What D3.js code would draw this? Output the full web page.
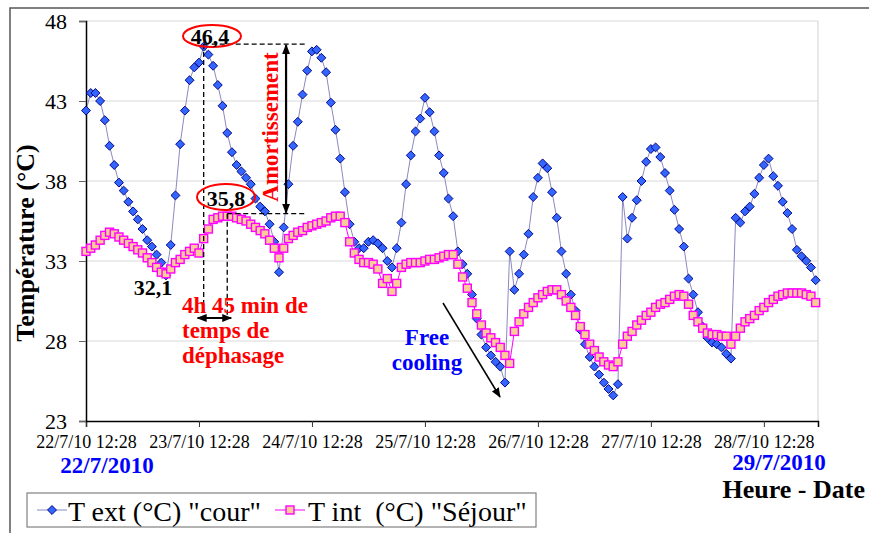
<!DOCTYPE html>
<html>
<head>
<meta charset="utf-8">
<script src="https://cdn.jsdelivr.net/npm/d3@7"></script>
<style>
body { margin: 0; background: #fff; }
svg { display: block; font-family: "Liberation Serif", "Times New Roman", serif; }
svg text { font-family: "Liberation Serif", "Times New Roman", serif; }
</style>
</head>
<body>
<div class="chart"></div>
<script>

const FRAME_WIDTH = 869;
const FRAME_HEIGHT = 533;
const MARGINS = {left: 86, right: 51, top: 21, bottom: 112};

// hourly readings from 22/7/10 12:28
const T_EXT = [
  42.4, 43.5, 43.5, 43.0, 41.8, 40.2, 39.0, 37.9, 37.4, 36.7, 36.1, 35.6,
  35.0, 34.3, 33.9, 33.4, 32.9, 32.1, 34.0, 37.1, 40.3, 42.4, 44.3, 45.1,
  45.4, 46.4, 45.9, 45.2, 44.0, 42.7, 41.0, 39.8, 39.0, 38.6, 38.2, 37.8,
  36.9, 36.4, 36.1, 35.3, 34.2, 32.3, 35.1, 37.8, 40.2, 41.7, 43.4, 44.9,
  46.1, 46.2, 45.7, 44.8, 42.9, 41.2, 39.4, 37.3, 35.3, 34.2, 33.8, 33.8,
  34.2, 34.3, 34.1, 33.8, 33.0, 32.6, 33.8, 35.4, 37.8, 39.6, 41.1, 41.9,
  43.2, 42.3, 41.1, 39.6, 38.5, 36.9, 35.8, 33.6, 32.8, 32.2, 30.9, 29.4,
  28.4, 27.6, 27.1, 26.7, 26.4, 25.4, 33.6, 31.2, 32.2, 33.4, 34.7, 37.0,
  38.2, 39.1, 38.8, 37.3, 35.7, 33.6, 32.2, 30.9, 29.9, 28.7, 27.8, 27.0,
  26.4, 25.9, 25.4, 25.0, 24.6, 25.3, 37.0, 34.4, 35.7, 36.8, 38.0, 39.2,
  40.0, 40.1, 39.5, 38.5, 37.4, 36.2, 35.0, 33.9, 31.9, 30.9, 29.8, 28.9,
  28.2, 27.9, 27.8, 27.6, 27.2, 26.9, 35.7, 35.4, 36.1, 36.4, 37.2, 38.2,
  39.0, 39.4, 38.3, 37.7, 36.7, 36.0, 35.0, 33.7, 33.3, 33.0, 32.6, 31.8
];

const T_INT = [
  33.6, 33.8, 34.0, 34.3, 34.6, 34.8, 34.7, 34.5, 34.3, 34.1, 33.9, 33.7,
  33.5, 33.2, 32.9, 32.6, 32.3, 32.2, 32.5, 32.9, 33.1, 33.4, 33.6, 33.8,
  33.5, 34.4, 35.0, 35.6, 35.7, 35.8, 35.8, 35.8, 35.7, 35.6, 35.5, 35.3,
  35.1, 34.9, 34.7, 34.3, 33.8, 33.2, 33.8, 34.4, 34.6, 34.8, 34.9, 35.1,
  35.2, 35.3, 35.4, 35.5, 35.7, 35.8, 35.8, 35.4, 34.2, 33.5, 33.1, 32.9,
  32.9, 32.8, 32.5, 31.6, 31.9, 31.1, 31.6, 32.6, 32.8, 32.9, 32.9, 32.9,
  33.0, 33.1, 33.1, 33.2, 33.3, 33.4, 33.4, 32.8, 32.0, 31.3, 30.4, 29.7,
  29.0, 28.5, 28.2, 27.9, 27.6, 27.1, 26.6, 28.6, 29.2, 29.7, 30.1, 30.4,
  30.7, 30.9, 31.1, 31.2, 31.2, 30.9, 30.5, 30.1, 29.6, 28.9, 28.4, 27.8,
  27.4, 27.0, 26.7, 26.5, 26.4, 26.7, 27.8, 28.3, 28.6, 29.0, 29.3, 29.6,
  29.8, 30.1, 30.3, 30.4, 30.6, 30.8, 30.9, 30.8, 30.3, 29.6, 29.2, 28.8,
  28.5, 28.4, 28.4, 28.3, 28.3, 27.8, 28.3, 28.8, 29.2, 29.4, 29.6, 29.9,
  30.1, 30.4, 30.6, 30.8, 30.9, 31.0, 31.0, 31.0, 31.0, 30.9, 30.8, 30.4
];

const TICK_HOURS = [0, 24, 48, 72, 96, 120, 144];
const TICK_LABELS = ["22/7/10 12:28", "23/7/10 12:28", "24/7/10 12:28", "25/7/10 12:28",
                     "26/7/10 12:28", "27/7/10 12:28", "28/7/10 12:28"];
const Y_TICKS = [23, 28, 33, 38, 43, 48];
const SERIES_NAMES = ['T ext (°C) "cour"', 'T int  (°C) "Séjour"'];

const EXT_FILL = "#3366ff", EXT_STROKE = "#000080", EXT_LINE = "#8a8ac0";
const INT_FILL = "#ffcc99", INT_STROKE = "#ff00ff";

const SVG = d3.select(".chart")
  .append("svg")
  .attr("width", FRAME_WIDTH)
  .attr("height", FRAME_HEIGHT);

const PLOT_WIDTH = FRAME_WIDTH - MARGINS.left - MARGINS.right;
const PLOT_HEIGHT = FRAME_HEIGHT - MARGINS.top - MARGINS.bottom;

const X_SCALE = d3.scaleLinear().domain([0, 155.5]).range([MARGINS.left, MARGINS.left + PLOT_WIDTH]);
const Y_SCALE = d3.scaleLinear().domain([23, 48]).range([MARGINS.top + PLOT_HEIGHT, MARGINS.top]);

// arrow markers
const DEFS = SVG.append("defs");
DEFS.append("marker").attr("id", "head")
  .attr("viewBox", "0 0 10 10").attr("refX", 9).attr("refY", 5)
  .attr("markerWidth", 10).attr("markerHeight", 10)
  .attr("markerUnits", "userSpaceOnUse").attr("orient", "auto-start-reverse")
  .append("path").attr("d", "M0,1 L10,5 L0,9 z").attr("fill", "#000");

// chart border
SVG.append("rect")
  .attr("x", 10).attr("y", 8).attr("width", 880).attr("height", 560)
  .attr("fill", "none").attr("stroke", "#555").attr("stroke-width", 1.5);

// grid + plot border
SVG.append("g").selectAll("line")
  .data(Y_TICKS.slice(1))
  .enter().append("line")
  .attr("x1", MARGINS.left).attr("x2", MARGINS.left + PLOT_WIDTH)
  .attr("y1", d => Y_SCALE(d)).attr("y2", d => Y_SCALE(d))
  .attr("stroke", "#d9d9d9").attr("stroke-width", 1.2);

SVG.append("line")
  .attr("x1", MARGINS.left + PLOT_WIDTH).attr("x2", MARGINS.left + PLOT_WIDTH)
  .attr("y1", MARGINS.top).attr("y2", MARGINS.top + PLOT_HEIGHT)
  .attr("stroke", "#d9d9d9").attr("stroke-width", 1.2);

// axes
const xAxis = SVG.append("g")
  .attr("transform", "translate(0," + (MARGINS.top + PLOT_HEIGHT) + ")")
  .call(d3.axisBottom(X_SCALE).tickValues(TICK_HOURS)
        .tickFormat((d, i) => TICK_LABELS[i]).tickSizeOuter(0).tickSize(6).tickPadding(8))
  .attr("font-family", null).attr("font-size", null);
xAxis.selectAll("text").attr("font-size", "18px").attr("fill", "#000");
xAxis.selectAll(".tick line").attr("stroke", "#333");
xAxis.select(".domain").attr("stroke", "#000").attr("stroke-width", 1.5);

const yAxis = SVG.append("g")
  .attr("transform", "translate(" + MARGINS.left + ",0)")
  .call(d3.axisLeft(Y_SCALE).tickValues(Y_TICKS).tickSizeOuter(0).tickSize(7).tickPadding(12))
  .attr("font-family", null).attr("font-size", null);
yAxis.selectAll("text").attr("font-size", "22px").attr("fill", "#000");
yAxis.selectAll(".tick line").attr("stroke", "#666");
yAxis.select(".domain").attr("stroke", "#000").attr("stroke-width", 1.5);

// series
const LINE = d3.line().x((d, i) => X_SCALE(i)).y(d => Y_SCALE(d));

SVG.append("path").datum(T_EXT)
  .attr("d", LINE).attr("fill", "none")
  .attr("stroke", EXT_LINE).attr("stroke-width", 1);

const DIAMOND = d3.symbol(d3.symbolSquare, 40);
SVG.append("g").selectAll("path")
  .data(T_EXT)
  .enter().append("path")
  .attr("d", DIAMOND)
  .attr("transform", (d, i) => "translate(" + X_SCALE(i) + "," + Y_SCALE(d) + ") rotate(45)")
  .attr("fill", EXT_FILL).attr("stroke", EXT_STROKE).attr("stroke-width", 0.9);

SVG.append("path").datum(T_INT)
  .attr("d", LINE).attr("fill", "none")
  .attr("stroke", INT_STROKE).attr("stroke-width", 1);

SVG.append("g").selectAll("rect")
  .data(T_INT)
  .enter().append("rect")
  .attr("x", (d, i) => X_SCALE(i) - 4)
  .attr("y", d => Y_SCALE(d) - 4)
  .attr("width", 8).attr("height", 8)
  .attr("fill", INT_FILL).attr("stroke", INT_STROKE).attr("stroke-width", 1.4);

// axis titles
SVG.append("text")
  .attr("transform", "translate(34,243) rotate(-90)")
  .attr("text-anchor", "middle")
  .attr("font-size", "26px").attr("font-weight", "bold")
  .text("Température (°C)");

SVG.append("text")
  .attr("x", 865).attr("y", 498).attr("text-anchor", "end")
  .attr("font-size", "26px").attr("font-weight", "bold")
  .text("Heure - Date");

SVG.append("text")
  .attr("x", 107).attr("y", 473).attr("text-anchor", "middle")
  .attr("font-size", "23px").attr("font-weight", "bold").attr("fill", "#0000ff")
  .text("22/7/2010");

SVG.append("text")
  .attr("x", 779).attr("y", 470).attr("text-anchor", "middle")
  .attr("font-size", "23px").attr("font-weight", "bold").attr("fill", "#0000ff")
  .text("29/7/2010");

// annotations
const PEAK_H = 25, LAG_H = 30, AMORT_H = 42.5;
const PEAK_Y = Y_SCALE(46.4) - 2.5, LAG_Y = Y_SCALE(35.8) - 2.5;
const ARROW_Y = 318;

const dash = (x1, y1, x2, y2) => SVG.append("line")
  .attr("x1", x1).attr("y1", y1).attr("x2", x2).attr("y2", y2)
  .attr("stroke", "#000").attr("stroke-width", 1.3).attr("stroke-dasharray", "5,3");

dash(X_SCALE(PEAK_H), PEAK_Y, 306, PEAK_Y);
dash(X_SCALE(PEAK_H), PEAK_Y, X_SCALE(PEAK_H), ARROW_Y);
dash(X_SCALE(LAG_H), LAG_Y, 306, LAG_Y);
dash(X_SCALE(LAG_H), LAG_Y, X_SCALE(LAG_H), ARROW_Y);

SVG.append("line")
  .attr("x1", X_SCALE(AMORT_H)).attr("x2", X_SCALE(AMORT_H))
  .attr("y1", PEAK_Y + 1).attr("y2", LAG_Y - 1)
  .attr("stroke", "#000").attr("stroke-width", 2.2)
  .attr("marker-start", "url(#head)").attr("marker-end", "url(#head)");

SVG.append("line")
  .attr("x1", X_SCALE(PEAK_H) - 6).attr("x2", X_SCALE(LAG_H) + 4)
  .attr("y1", ARROW_Y).attr("y2", ARROW_Y)
  .attr("stroke", "#000").attr("stroke-width", 2)
  .attr("marker-start", "url(#head)").attr("marker-end", "url(#head)");

const bold = (x, y, txt, size, color) => SVG.append("text")
  .attr("x", x).attr("y", y).attr("text-anchor", "middle").attr("dominant-baseline", "central")
  .attr("font-size", size).attr("font-weight", "bold").attr("fill", color)
  .text(txt);

SVG.append("ellipse").attr("cx", 212).attr("cy", 36).attr("rx", 29).attr("ry", 11)
  .attr("fill", "none").attr("stroke", "#ff0000").attr("stroke-width", 2);
bold(210, 36, "46,4", "22px", "#000");

SVG.append("ellipse").attr("cx", 226).attr("cy", 197).attr("rx", 29).attr("ry", 13)
  .attr("fill", "none").attr("stroke", "#ff0000").attr("stroke-width", 2);
bold(226, 198, "35,8", "22px", "#000");

bold(153, 287, "32,1", "22px", "#000");

SVG.append("text")
  .attr("transform", "translate(270,127) rotate(-90)")
  .attr("text-anchor", "middle").attr("dominant-baseline", "central")
  .attr("font-size", "23px").attr("font-weight", "bold").attr("fill", "#ff0000")
  .text("Amortissement");

["4h 45 min de", "temps de", "déphasage"].forEach((t, i) => {
  SVG.append("text")
    .attr("x", 182).attr("y", 305 + i * 25).attr("dominant-baseline", "central")
    .attr("font-size", "23px").attr("font-weight", "bold").attr("fill", "#ff0000")
    .text(t);
});

bold(427, 337, "Free", "23px", "#0000ff");
bold(427, 362, "cooling", "23px", "#0000ff");

SVG.append("line")
  .attr("x1", 443).attr("y1", 303).attr("x2", 500).attr("y2", 397)
  .attr("stroke", "#000").attr("stroke-width", 1.5)
  .attr("marker-end", "url(#head)");

// legend
const LEGEND = SVG.append("g");
LEGEND.append("rect")
  .attr("x", 27).attr("y", 493).attr("width", 509).attr("height", 34)
  .attr("fill", "#fff").attr("stroke", "#808080").attr("stroke-width", 1.2);

LEGEND.append("line").attr("x1", 37).attr("x2", 67).attr("y1", 510).attr("y2", 510)
  .attr("stroke", EXT_LINE).attr("stroke-width", 1);
LEGEND.append("path").attr("d", DIAMOND)
  .attr("transform", "translate(52,510) rotate(45)")
  .attr("fill", EXT_FILL).attr("stroke", EXT_STROKE).attr("stroke-width", 0.9);
LEGEND.append("text").attr("x", 68).attr("y", 511).attr("dominant-baseline", "central")
  .attr("font-size", "28px").style("white-space", "pre")
  .text(SERIES_NAMES[0]);

LEGEND.append("line").attr("x1", 275).attr("x2", 305).attr("y1", 510).attr("y2", 510)
  .attr("stroke", INT_STROKE).attr("stroke-width", 1);
LEGEND.append("rect").attr("x", 286).attr("y", 506).attr("width", 8).attr("height", 8)
  .attr("fill", INT_FILL).attr("stroke", INT_STROKE).attr("stroke-width", 1.4);
LEGEND.append("text").attr("x", 308).attr("y", 511).attr("dominant-baseline", "central")
  .attr("font-size", "28px").style("white-space", "pre")
  .text(SERIES_NAMES[1]);

</script>
</body>
</html>
